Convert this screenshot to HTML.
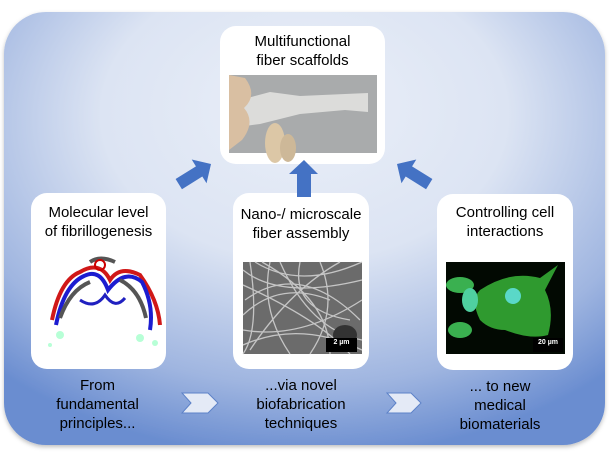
<!DOCTYPE html>
<html><head><style>
body{margin:0;width:609px;height:456px;background:#fff;overflow:hidden;font-family:"Liberation Sans",sans-serif;}
.t{position:absolute;text-align:center;color:#000;font-size:15px;line-height:19px;}
</style></head><body>
<svg width="609" height="456" style="position:absolute;left:0;top:0">
<defs>
<radialGradient id="bg" cx="50%" cy="28%" r="75%" fx="50%" fy="20%">
<stop offset="0" stop-color="#eaeff8"/><stop offset="0.45" stop-color="#dce4f3"/><stop offset="0.8" stop-color="#9fb5e0"/><stop offset="1" stop-color="#6a8dd0"/>
</radialGradient>
<filter id="sh"><feDropShadow dx="0" dy="2" stdDeviation="2" flood-color="#000" flood-opacity="0.25"/></filter>
</defs>
<rect x="4" y="12" width="601" height="433" rx="42" fill="url(#bg)" filter="url(#sh)"/>
<rect x="220" y="26" width="165" height="138" rx="16" fill="#fff"/>
<rect x="31" y="193" width="135" height="176" rx="16" fill="#fff"/>
<rect x="233" y="193" width="136" height="176" rx="16" fill="#fff"/>
<rect x="437" y="194" width="136" height="176" rx="16" fill="#fff"/>
<!-- top image -->
<rect x="229" y="75" width="148" height="78" fill="#a9abac"/>
<path d="M240 100 L270 92 L300 96 L345 94 L368 93 L368 112 L345 110 L300 114 L260 124 L245 126Z" fill="#dcdcda"/>
<path d="M229 75 L245 78 Q258 95 244 108 Q256 122 242 140 L229 150Z" fill="#d9bfa2"/>
<ellipse cx="275" cy="143" rx="10" ry="20" fill="#dcc7a6"/>
<ellipse cx="288" cy="148" rx="8" ry="14" fill="#cdb898"/>
<!-- fiber SEM image -->
<rect x="243" y="262" width="119" height="92" fill="#6b6b6b"/>
<g stroke="#d5d5d5" stroke-width="1.3" fill="none" opacity="0.85">
<path d="M243 270 Q280 300 362 280 M245 300 Q300 260 360 320 M250 350 Q290 290 340 262 M243 330 Q300 340 362 300 M270 262 Q260 310 290 354 M320 262 Q340 310 310 354 M243 285 Q320 320 350 354 M255 262 Q300 290 362 262"/>
<path d="M243 315 Q280 280 330 300 M280 262 Q310 330 362 340 M250 262 Q260 330 243 354 M300 262 Q290 310 350 320 M243 345 Q300 320 362 350 M262 262 Q330 300 330 354"/>
</g>
<ellipse cx="345" cy="335" rx="12" ry="10" fill="#333"/>
<rect x="326" y="338" width="31" height="14" fill="#000"/>
<!-- cell image -->
<rect x="446" y="262" width="119" height="92" fill="#020902"/>
<path d="M480 290 Q510 270 540 278 L558 265 L545 290 Q555 310 548 335 Q530 340 505 330 Q490 330 480 320 Q470 300 480 290Z" fill="#2f9a2f"/>
<ellipse cx="460" cy="285" rx="14" ry="8" fill="#3ab050"/>
<ellipse cx="470" cy="300" rx="8" ry="12" fill="#4fd0a0"/>
<ellipse cx="460" cy="330" rx="12" ry="8" fill="#3ab050"/>
<circle cx="513" cy="296" r="8" fill="#5ad8c8"/>
<rect x="533" y="338" width="30" height="14" fill="#000"/>
<!-- protein -->
<g fill="none" stroke-width="4">
<path d="M52 320 Q60 280 80 272 Q100 260 110 280 Q120 265 140 275 Q158 300 160 325" stroke="#d01818"/>
<path d="M56 325 Q64 285 84 276 Q100 268 108 290 Q125 268 142 282 Q154 305 150 330" stroke="#1c1cd0"/>
<path d="M60 318 Q70 290 90 282 M120 280 Q140 290 146 318 M90 262 Q100 255 115 262" stroke="#555"/>
<path d="M80 300 Q95 310 105 295 Q115 310 125 298" stroke="#2020c0" stroke-width="3"/>
<circle cx="100" cy="265" r="5" stroke="#c00" stroke-width="2"/>
</g>
<g fill="#8fb" opacity="0.6"><circle cx="60" cy="335" r="4"/><circle cx="140" cy="338" r="4"/><circle cx="50" cy="345" r="2"/><circle cx="155" cy="343" r="3"/></g>
<!-- arrows -->
<polygon fill="#4472c4" points="297,197 297,174 289,174 304,160 318,174 311,174 311,197"/>
<g transform="translate(211,164) rotate(-32)"><polygon fill="#4472c4" points="0,0 -14,-14 -14,-6 -38,-6 -38,6 -14,6 -14,14"/></g>
<g transform="translate(397,164) rotate(212)"><polygon fill="#4472c4" points="0,0 -14,-14 -14,-6 -38,-6 -38,6 -14,6 -14,14"/></g>
<polygon points="182,393 208,393 218,403 208,413 182,413 191,403" fill="#e4eaf6" stroke="#5d82c8" stroke-width="1"/>
<polygon points="387,393 411,393 421,403 411,413 387,413 396,403" fill="#e4eaf6" stroke="#5d82c8" stroke-width="1"/>
</svg>
<div class="t" style="left:220px;top:32px;width:165px">Multifunctional<br>fiber scaffolds</div>
<div class="t" style="left:31px;top:203px;width:135px">Molecular level<br>of fibrillogenesis</div>
<div class="t" style="left:233px;top:205px;width:136px">Nano-/ microscale<br>fiber assembly</div>
<div class="t" style="left:437px;top:203px;width:136px">Controlling cell<br>interactions</div>
<div class="t" style="left:30px;top:376px;width:135px">From<br>fundamental<br>principles...</div>
<div class="t" style="left:233px;top:376px;width:136px">...via novel<br>biofabrication<br>techniques</div>
<div class="t" style="left:430px;top:377px;width:140px">... to new<br>medical<br>biomaterials</div>
<div style="position:absolute;left:326px;top:339px;width:31px;color:#fff;font-size:7px;text-align:center;font-weight:bold">2 µm</div>
<div style="position:absolute;left:533px;top:339px;width:30px;color:#fff;font-size:7px;text-align:center;font-weight:bold">20 µm</div>
</body></html>
